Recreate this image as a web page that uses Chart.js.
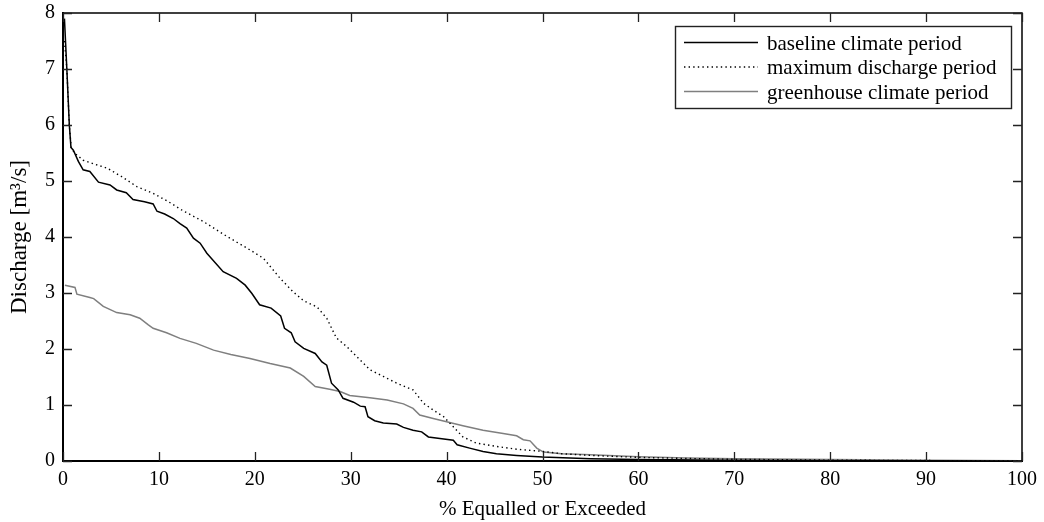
<!DOCTYPE html>
<html><head><meta charset="utf-8">
<script src="https://cdn.jsdelivr.net/npm/chart.js@4"></script>
<style>html,body{margin:0;padding:0;background:#fff}#wrap{width:1044px;height:522px}</style>
</head><body><div id="wrap"><canvas id="c" width="1044" height="522"></canvas></div>
<script>
// ---- data ----
const seriesLabels = ['baseline climate period', 'maximum discharge period', 'greenhouse climate period'];

const baselineX = [0.15,0.4,0.66,0.83,1.08,1.6,2.1,2.8,3.7,4.9,5.6,6.6,7.3,8.5,9.4,9.8,10.6,11.5,12.2,12.9,13.6,14.3,15.0,16.7,18.1,19.0,19.7,20.5,21.7,22.7,23.1,23.8,24.2,25.1,26.3,27.0,27.5,28.0,28.7,29.2,30.3,31.0,31.5,31.8,32.5,33.4,34.8,35.5,36.5,37.4,38.1,39.3,40.7,41.1,42.4,43.8,45.2,47.3,50,55,60,70,80,90,100];
const baselineY = [7.9,7.0,6.0,5.6,5.55,5.35,5.2,5.17,4.98,4.93,4.84,4.79,4.67,4.63,4.59,4.46,4.41,4.33,4.24,4.16,3.98,3.89,3.71,3.38,3.26,3.14,2.99,2.79,2.73,2.59,2.37,2.29,2.13,2.01,1.92,1.77,1.71,1.39,1.27,1.12,1.05,0.98,0.97,0.79,0.72,0.68,0.66,0.60,0.55,0.52,0.43,0.40,0.37,0.29,0.23,0.17,0.13,0.10,0.07,0.04,0.025,0.012,0.006,0.003,0];

const maxX = [0.15,0.4,0.66,0.85,1.2,2.1,3.3,4.6,6.1,7.7,9.4,11.0,12.5,14.6,17.1,19.2,20.9,22.6,24.0,25.1,26.5,27.5,28.5,29.6,31.0,32.0,33.4,34.8,36.5,37.6,38.6,39.7,40.7,41.7,43.1,45.2,47.3,50.1,52,55,60,65,70,80,90,100];
const maxY = [7.5,7.0,6.0,5.6,5.5,5.37,5.3,5.23,5.08,4.90,4.78,4.63,4.47,4.28,4.01,3.8,3.62,3.27,3.02,2.86,2.75,2.55,2.2,2.04,1.8,1.63,1.51,1.39,1.27,1.03,0.91,0.79,0.61,0.43,0.32,0.26,0.21,0.17,0.13,0.10,0.065,0.045,0.03,0.015,0.008,0];

const greenX = [0.2,1.25,1.45,2.8,3.2,4.2,5.6,7.0,8.0,8.9,9.4,10.8,12.2,13.9,15.7,17.5,19.5,21.6,23.7,25.1,26.3,27.8,28.9,29.9,32.0,33.8,35.5,36.5,37.2,38.6,40.0,41.7,43.8,45.9,47.3,48.0,48.7,49.4,50.1,52,55,60,65,70,80,90,100];
const greenY = [3.14,3.10,2.98,2.92,2.9,2.76,2.65,2.61,2.55,2.43,2.37,2.29,2.19,2.10,1.98,1.9,1.83,1.74,1.66,1.51,1.33,1.28,1.24,1.17,1.13,1.09,1.02,0.94,0.82,0.76,0.70,0.63,0.55,0.49,0.45,0.38,0.36,0.23,0.16,0.13,0.11,0.075,0.055,0.04,0.025,0.012,0.003];

const xTitle = '% Equalled or Exceeded';
const yTitle = 'Discharge [m\u00B3/s]';

// ---- helpers ----
const pts = (xs, ys) => xs.map((x, i) => ({x: x, y: ys[i]}));
const FONT = 'Liberation Serif, Times New Roman, serif';

const frameTicks = {
  id: 'frameTicks',
  afterDraw(chart) {
    const ctx = chart.ctx;
    const {left, right, top, bottom} = chart.chartArea;
    const xs = chart.scales.x, ys = chart.scales.y;
    ctx.save();
    ctx.strokeStyle = '#000';
    ctx.lineWidth = 1.5;
    ctx.beginPath();
    ctx.moveTo(left, top); ctx.lineTo(right, top); ctx.lineTo(right, bottom);
    ctx.stroke();
    ctx.strokeStyle = '#222';
    ctx.lineWidth = 1.3;
    const L = 9;
    ctx.beginPath();
    xs.ticks.forEach(t => {
      const p = Math.round(xs.getPixelForValue(t.value)) + 0.5;
      ctx.moveTo(p, bottom); ctx.lineTo(p, bottom - L);
      ctx.moveTo(p, top); ctx.lineTo(p, top + L);
    });
    ys.ticks.forEach(t => {
      const p = Math.round(ys.getPixelForValue(t.value)) + 0.5;
      ctx.moveTo(left, p); ctx.lineTo(left + L, p);
      ctx.moveTo(right, p); ctx.lineTo(right - L, p);
    });
    ctx.stroke();

    // legend box
    const w = 336, h = 82;
    const x0 = right - 11 - w, y0 = top + 13;
    ctx.fillStyle = '#fff';
    ctx.fillRect(x0, y0, w, h);
    ctx.strokeStyle = '#222';
    ctx.lineWidth = 1.4;
    ctx.strokeRect(x0 + 0.5, y0 + 0.5, w, h);
    ctx.font = '21px ' + FONT;
    ctx.textBaseline = 'alphabetic';
    ctx.textAlign = 'left';
    chart.data.datasets.forEach((ds, i) => {
      const yc = y0 + 16.5 + i * 24.5;
      ctx.save();
      ctx.strokeStyle = ds.borderColor;
      ctx.lineWidth = ds.borderWidth;
      ctx.setLineDash(ds.borderDash || []);
      ctx.beginPath();
      ctx.moveTo(x0 + 9, yc); ctx.lineTo(x0 + 83, yc);
      ctx.stroke();
      ctx.restore();
      ctx.fillStyle = '#000';
      ctx.fillText(ds.label, x0 + 92, yc + 7);
    });
    ctx.restore();
  }
};

new Chart(document.getElementById('c'), {
  type: 'line',
  data: {
    datasets: [
      {label: seriesLabels[0], data: pts(baselineX, baselineY), borderColor: '#000', borderWidth: 1.5},
      {label: seriesLabels[1], data: pts(maxX, maxY), borderColor: '#000', borderWidth: 1.4, borderDash: [1.4, 3.2]},
      {label: seriesLabels[2], data: pts(greenX, greenY), borderColor: '#7f7f7f', borderWidth: 1.5}
    ]
  },
  options: {
    responsive: false,
    devicePixelRatio: 1,
    animation: false,
    elements: {point: {radius: 0}, line: {tension: 0, fill: false}},
    layout: {padding: {left: 0, right: 22, top: 13, bottom: 0}},
    plugins: {legend: {display: false}, tooltip: {enabled: false}},
    scales: {
      x: {
        type: 'linear', min: 0, max: 100,
        ticks: {stepSize: 10, color: '#000', font: {family: FONT, size: 20}, padding: 7, maxRotation: 0},
        grid: {display: false, drawTicks: false},
        border: {display: true, color: '#000', width: 2},
        title: {display: true, text: xTitle, color: '#000', font: {family: FONT, size: 21}, padding: {top: 0, bottom: 0}},
        afterFit: s => { s.height = 61; s.paddingLeft = 0; s.paddingRight = 0; }
      },
      y: {
        type: 'linear', min: 0, max: 8,
        ticks: {stepSize: 1, color: '#000', font: {family: FONT, size: 20}, padding: 8},
        grid: {display: false, drawTicks: false},
        border: {display: true, color: '#000', width: 2},
        title: {display: true, text: yTitle, color: '#000', font: {family: FONT, size: 23}, padding: {top: 6, bottom: 0}},
        afterFit: s => { s.width = 63; s.paddingTop = 0; s.paddingBottom = 0; }
      }
    }
  },
  plugins: [frameTicks]
});
</script>
</body></html>
